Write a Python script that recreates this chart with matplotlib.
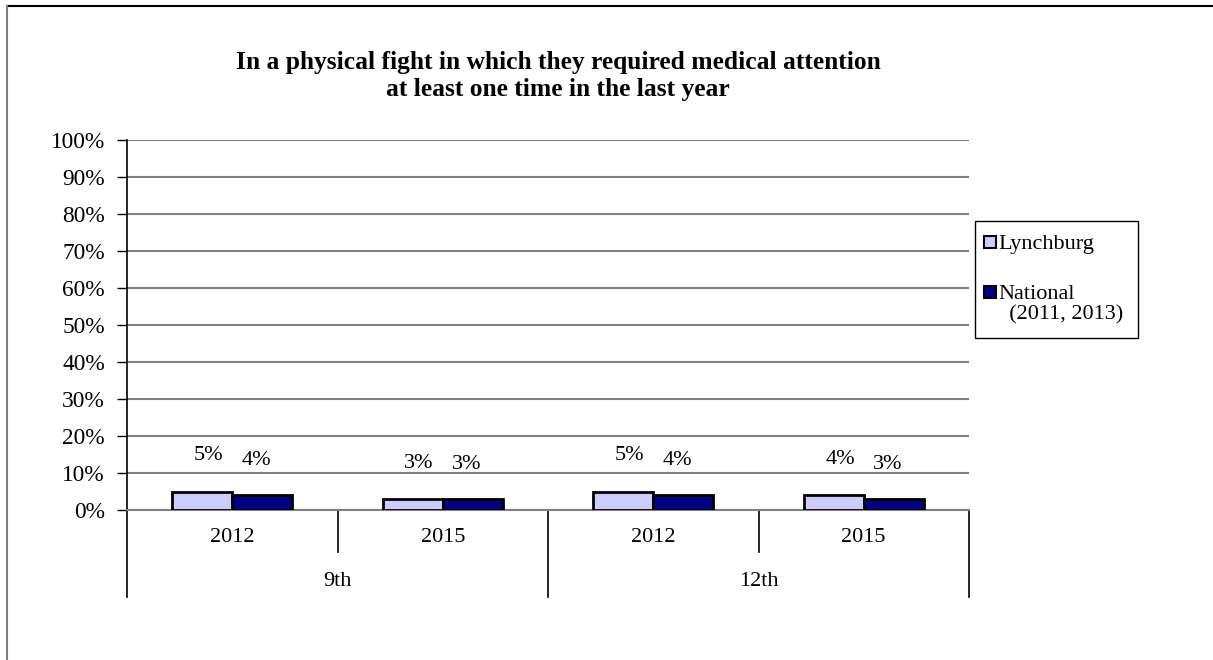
import numpy as np
import matplotlib.pyplot as plt
from matplotlib.lines import Line2D
from matplotlib.patches import Rectangle
import matplotlib.transforms as mtransforms

plt.rcParams['font.family'] = ['Liberation Serif', 'DejaVu Serif']

years = ['2012', '2015', '2012', '2015']
grades = ['9th', '12th']
lynchburg = [5, 3, 5, 4]
national = [4, 3, 4, 3]
series_names = ['Lynchburg', 'National\n  (2011, 2013)']
title = 'In a physical fight in which they required medical attention\nat least one time in the last year'

light = '#CCCCFF'
dark = '#000080'
fs = 16
W, H = 1213, 660


def fx(px):
    return px / W


def fy(py):
    return 1 - py / H


fig = plt.figure(figsize=(W / 100, H / 100), dpi=100)
ax = fig.add_axes([fx(127), 150 / H, 842 / W, 370 / H])

x = np.arange(len(years))
w = 0.286
ax.bar(x - w / 2, lynchburg, w, color=light, edgecolor='black', linewidth=2, zorder=3)
ax.bar(x + w / 2, national, w, color=dark, edgecolor='black', linewidth=2, zorder=3)

for i in range(len(x)):
    ax.text(x[i] - w / 2 + 0.03, lynchburg[i] + 9.6, f'{lynchburg[i]}%',
            ha='center', va='center', fontsize=fs)
    ax.text(x[i] + w / 2 - 0.03, national[i] + 9.4, f'{national[i]}%',
            ha='center', va='center', fontsize=fs)

ax.set_xlim(-0.5, len(x) - 0.5)
ax.set_ylim(0, 100)
ax.set_yticks(np.arange(0, 101, 10))
ax.set_yticklabels([f'{v}%' for v in range(0, 101, 10)], fontsize=16.8)
ax.yaxis.grid(True, color='#808080', linewidth=1.5, zorder=0)
ax.set_axisbelow(True)
ax.tick_params(axis='y', length=7, width=1, color='black', pad=9)
ax.tick_params(axis='x', length=0, labelbottom=False)
for s in ['top', 'right', 'left']:
    ax.spines[s].set_visible(False)
ax.spines['bottom'].set_color('#808080')
ax.spines['bottom'].set_linewidth(1.5)

# multi-level category axis
tr = mtransforms.blended_transform_factory(ax.transData, ax.transAxes)
short = -42 / 370
long_ = -87 / 370
ax.add_line(Line2D([-0.5, -0.5], [long_, 1], transform=tr, color='black', lw=1.2, clip_on=False))
for b in [0.5, 2.5]:
    ax.add_line(Line2D([b, b], [0, short], transform=tr, color='black', lw=1.2, clip_on=False))
for b in [1.5, 3.5]:
    ax.add_line(Line2D([b, b], [0, long_], transform=tr, color='black', lw=1.2, clip_on=False))
for i, yl in enumerate(years):
    ax.text(x[i], -27 / 370, yl, transform=tr, ha='center', va='center', fontsize=fs)
for j, g in enumerate(grades):
    ax.text(2 * j + 0.5, -71 / 370, g, transform=tr, ha='center', va='center', fontsize=fs)

fig.text(fx(558), fy(76), title, ha='center', va='center',
         fontsize=18.4, fontweight='bold', linespacing=1.25)

# legend box (Excel style: marker next to first line of each entry)
fig.add_artist(Rectangle((fx(975), fy(338)), 163 / W, 117 / H, transform=fig.transFigure,
                         facecolor='white', edgecolor='black', lw=1))
for k, (name, col) in enumerate(zip(series_names, [light, dark])):
    yc = [242, 292][k]
    fig.add_artist(Rectangle((fx(984), fy(yc + 6)), 12 / W, 12 / H, transform=fig.transFigure,
                             facecolor=col, edgecolor='black', lw=1.5))
    fig.text(fx(998), fy(yc - 7), name, ha='left', va='top', fontsize=fs,
             linespacing=1.1)

# outer chart frame
fig.add_artist(Line2D([fx(7), 1], [fy(6), fy(6)], transform=fig.transFigure, color='black', lw=1.5))
fig.add_artist(Line2D([fx(7), fx(7)], [0, fy(6)], transform=fig.transFigure, color='#808080', lw=1.5))

fig.savefig('out.png', dpi=100)
